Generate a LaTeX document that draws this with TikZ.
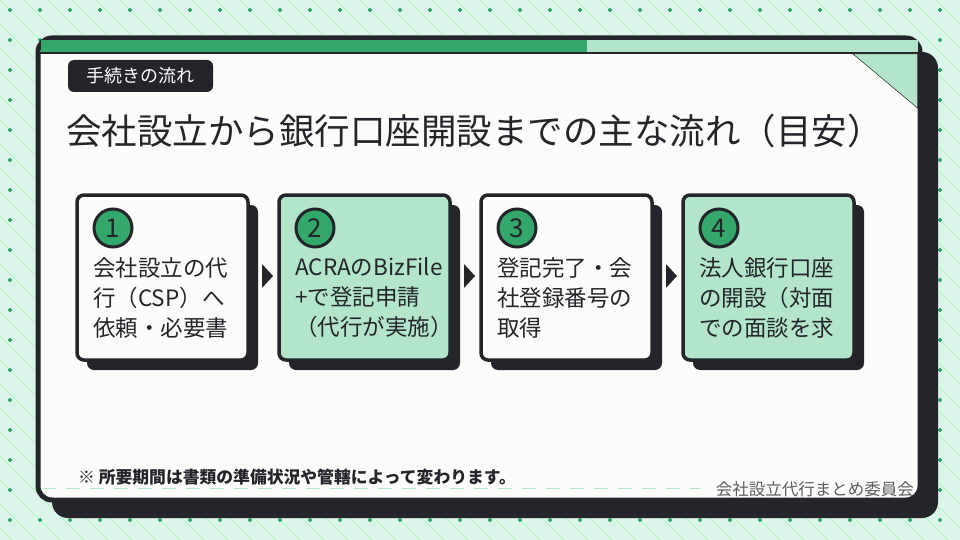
\documentclass[tikz,border=0pt]{standalone}
\usepackage{fontspec}
\setmainfont{Noto Sans CJK JP}
\definecolor{bg}{HTML}{DCF5EA}
\definecolor{ink}{HTML}{23252A}
\definecolor{grn}{HTML}{34A86A}
\definecolor{lgrn}{HTML}{B3E5CB}
\definecolor{paper}{HTML}{FCFDFB}
\begin{document}
\begin{tikzpicture}[x=1pt,y=-1pt,
  stepbox/.style={draw=ink,line width=3.5pt,rounded corners=7pt},
  shadowbox/.style={fill=ink,rounded corners=7pt},
  num/.style={circle,draw=ink,line width=3pt,fill=grn,minimum size=38pt,inner sep=0pt,font=\fontsize{26}{26}\selectfont,text=ink},
  body/.style={anchor=north west,align=left,font=\fontsize{22.5}{30}\selectfont,text=ink,inner sep=0pt},
  arr/.style={fill=ink}]
\useasboundingbox (0,0) rectangle (960,540);
\fill[bg] (0,0) rectangle (960,540);
\begin{scope}
\clip (0,0) rectangle (960,540);
\foreach \i in {-24,...,40}{\draw[green!25!bg,line width=0.4pt] (\i*24,0) -- ++(540,540);}
\end{scope}
\foreach \x in {10,40,...,950}{\foreach \y in {10,40,...,530}{
  \fill[grn] (\x-2,\y-0.7) rectangle (\x+2,\y+0.7);
  \fill[grn] (\x-0.7,\y-2) rectangle (\x+0.7,\y+2);}}
% card
\fill[ink,rounded corners=16pt] (52,52) rectangle (938,518);
\filldraw[fill=paper,draw=ink,line width=5pt,rounded corners=14pt] (38,38) rectangle (920,500);
\fill[grn] (40.5,40.5) rectangle (587,52);
\fill[lgrn] (587,40.5) rectangle (917.5,52);
\draw[ink,line width=2.5pt] (40,53) -- (918,53);
\filldraw[fill=lgrn,draw=ink,line width=0.5pt] (853,54) -- (917.5,54) -- (917.5,108) -- cycle;
\node[fill=ink,rounded corners=6pt,minimum width=145pt,minimum height=32pt,text=white,font=\fontsize{18}{18}\selectfont] (tag) at (140.5,76) {手続きの流れ};
\node[anchor=west,text=ink,font=\fontsize{35.5}{35.5}\selectfont,inner sep=0pt] (title) at (66,131) {会社設立から銀行口座開設までの主な流れ（目安）};
% steps
\foreach \n/\x/\c/\t in {1/77/paper/{会社設立の代\\行（CSP）へ\\依頼・必要書},
  2/279/lgrn/{ACRAのBizFile\\+で登記申請\\（代行が実施）},
  3/481/paper/{登記完了・会\\社登録番号の\\取得},
  4/683/lgrn/{法人銀行口座\\の開設（対面\\での面談を求}}{
  \fill[shadowbox] (\x+10,205) rectangle (\x+181,370);
  \filldraw[stepbox,fill=\c] (\x,195) rectangle (\x+171,360);
  \node[num] (n\n) at (\x+36,228) {\n};
  \node[body] (b\n) at (\x+16,257) {\t};
}
\foreach \x in {262,464,666}{\fill[arr] (\x,264) -- (\x+11,276) -- (\x,288) -- cycle;}
\draw[lgrn,line width=0.8pt,dash pattern=on 14pt off 10pt] (42,488) -- (700,488);
\node[anchor=west,text=ink,font=\bfseries\fontsize{16.8}{16.8}\selectfont,inner sep=0pt] (note) at (78,477) {※ 所要期間は書類の準備状況や管轄によって変わります。};
\node[anchor=east,text=ink!75,font=\fontsize{16.5}{16.5}\selectfont,inner sep=0pt] (cred) at (914,489) {会社設立代行まとめ委員会};
\end{tikzpicture}
\end{document}
